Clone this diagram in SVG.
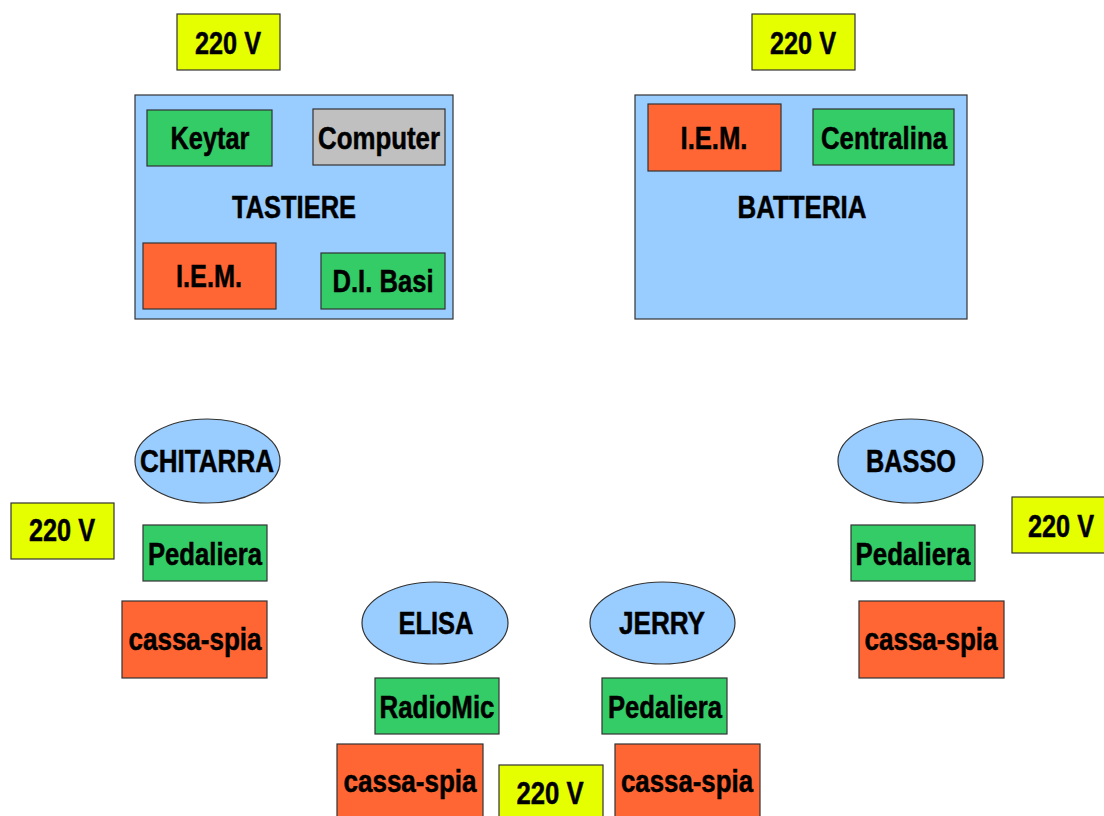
<svg xmlns="http://www.w3.org/2000/svg" width="1104" height="816" viewBox="0 0 1104 816">
<style>
rect,ellipse{stroke:#333;stroke-width:1.2}
.b{fill:#99ccff}.g{fill:#33cc66}.o{fill:#ff6633}.y{fill:#e6ff00}.gr{fill:#c0c0c0}
text{font-family:"Liberation Sans",Arial,sans-serif;font-weight:bold;font-size:31px;fill:#000;stroke:#000;stroke-width:0.5;text-anchor:middle}
</style>
<rect width="1104" height="816" fill="#fff" style="stroke:none"/>
<g id="tastiere">
<rect class="b" x="135" y="95" width="318" height="224"/>
<text x="294" y="218" textLength="124" lengthAdjust="spacingAndGlyphs">TASTIERE</text>
</g>
<g id="keytar"><rect class="g" x="147" y="110" width="125" height="56"/><text x="210" y="149" textLength="79" lengthAdjust="spacingAndGlyphs">Keytar</text></g>
<g id="computer"><rect class="gr" x="313" y="109" width="132" height="56"/><text x="379" y="149" textLength="122" lengthAdjust="spacingAndGlyphs">Computer</text></g>
<g id="iem1"><rect class="o" x="143" y="243" width="133" height="66"/><text x="209" y="287" textLength="66" lengthAdjust="spacingAndGlyphs">I.E.M.</text></g>
<g id="dibasi"><rect class="g" x="321" y="253" width="124" height="56"/><text x="383" y="292" textLength="101" lengthAdjust="spacingAndGlyphs">D.I. Basi</text></g>
<g id="batteria">
<rect class="b" x="635" y="95" width="332" height="224"/>
<text x="802" y="218" textLength="129" lengthAdjust="spacingAndGlyphs">BATTERIA</text>
</g>
<g id="iem2"><rect class="o" x="648" y="104" width="133" height="67"/><text x="714" y="149" textLength="67" lengthAdjust="spacingAndGlyphs">I.E.M.</text></g>
<g id="centralina"><rect class="g" x="813" y="109" width="141" height="56"/><text x="884" y="149" textLength="126" lengthAdjust="spacingAndGlyphs">Centralina</text></g>
<g id="v1"><rect class="y" x="177" y="14" width="103" height="56"/><text x="228" y="54" textLength="66" lengthAdjust="spacingAndGlyphs">220 V</text></g>
<g id="v2"><rect class="y" x="752" y="14" width="103" height="56"/><text x="803" y="54" textLength="66" lengthAdjust="spacingAndGlyphs">220 V</text></g>
<g id="chitarra"><ellipse class="b" cx="207.5" cy="461" rx="72.5" ry="42"/><text x="207" y="472" textLength="134" lengthAdjust="spacingAndGlyphs">CHITARRA</text></g>
<g id="v3"><rect class="y" x="11" y="503" width="103" height="56"/><text x="62" y="541" textLength="66" lengthAdjust="spacingAndGlyphs">220 V</text></g>
<g id="ped1"><rect class="g" x="143" y="525" width="124" height="56"/><text x="205" y="565" textLength="114" lengthAdjust="spacingAndGlyphs">Pedaliera</text></g>
<g id="cs1"><rect class="o" x="122" y="601" width="145" height="77"/><text x="195" y="650" textLength="133" lengthAdjust="spacingAndGlyphs">cassa-spia</text></g>
<g id="basso"><ellipse class="b" cx="910.5" cy="461" rx="72.5" ry="42"/><text x="911" y="472" textLength="90" lengthAdjust="spacingAndGlyphs">BASSO</text></g>
<g id="v4"><rect class="y" x="1012" y="497" width="103" height="56"/><text x="1061" y="537" textLength="66" lengthAdjust="spacingAndGlyphs">220 V</text></g>
<g id="ped2"><rect class="g" x="851" y="525" width="124" height="56"/><text x="913" y="565" textLength="115" lengthAdjust="spacingAndGlyphs">Pedaliera</text></g>
<g id="cs2"><rect class="o" x="859" y="601" width="145" height="77"/><text x="931" y="650" textLength="133" lengthAdjust="spacingAndGlyphs">cassa-spia</text></g>
<g id="elisa"><ellipse class="b" cx="435" cy="623" rx="73" ry="41"/><text x="436" y="634" textLength="75" lengthAdjust="spacingAndGlyphs">ELISA</text></g>
<g id="jerry"><ellipse class="b" cx="662.5" cy="623" rx="72.5" ry="41"/><text x="662" y="634" textLength="86" lengthAdjust="spacingAndGlyphs">JERRY</text></g>
<g id="radiomic"><rect class="g" x="375" y="678" width="124" height="56"/><text x="437" y="718" textLength="115" lengthAdjust="spacingAndGlyphs">RadioMic</text></g>
<g id="ped3"><rect class="g" x="602" y="678" width="125" height="56"/><text x="665" y="718" textLength="114" lengthAdjust="spacingAndGlyphs">Pedaliera</text></g>
<g id="cs3"><rect class="o" x="337" y="744" width="146" height="77"/><text x="410" y="792" textLength="133" lengthAdjust="spacingAndGlyphs">cassa-spia</text></g>
<g id="v5"><rect class="y" x="499" y="765" width="104" height="56"/><text x="550" y="804" textLength="67" lengthAdjust="spacingAndGlyphs">220 V</text></g>
<g id="cs4"><rect class="o" x="615" y="744" width="145" height="77"/><text x="687" y="792" textLength="132" lengthAdjust="spacingAndGlyphs">cassa-spia</text></g>
<g id="connectors"/>
</svg>
